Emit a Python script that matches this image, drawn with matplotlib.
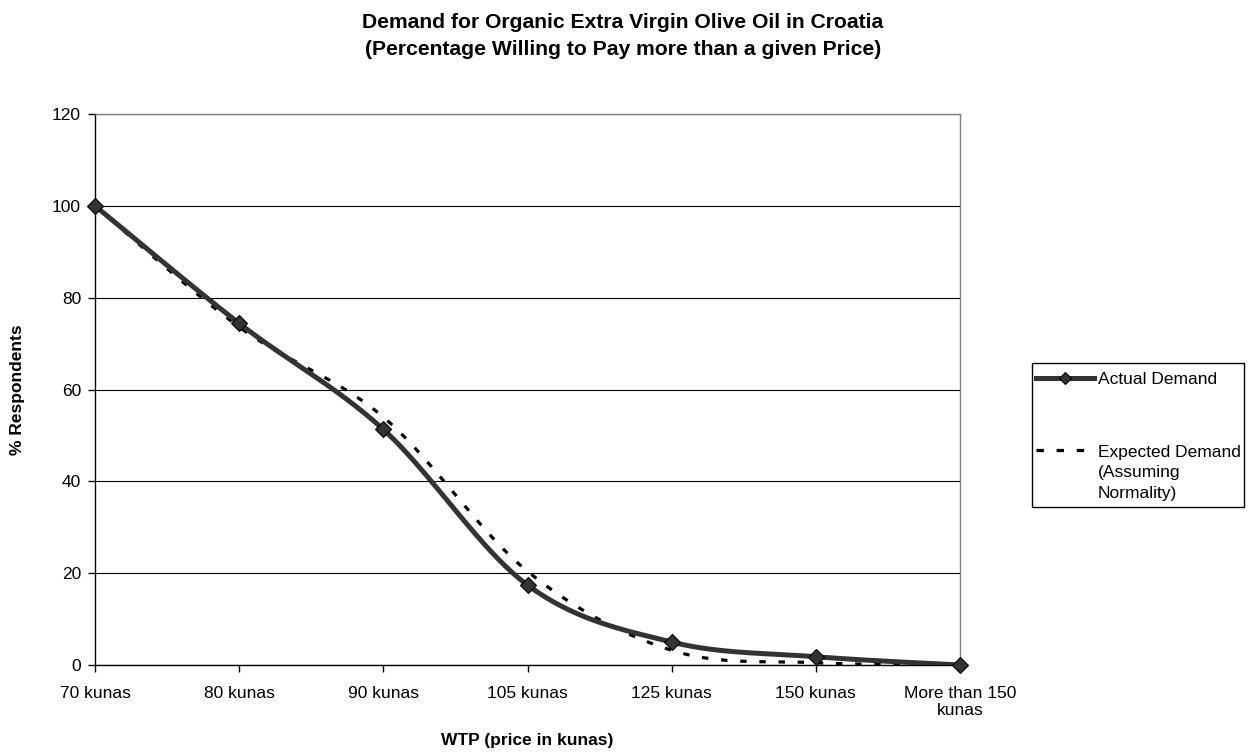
import numpy as np
import matplotlib.pyplot as plt
from matplotlib.lines import Line2D
from matplotlib.patches import Rectangle

plt.rcParams['font.family'] = ['Liberation Sans', 'DejaVu Sans']

prices = ['70 kunas', '80 kunas', '90 kunas', '105 kunas', '125 kunas',
          '150 kunas', 'More than 150\nkunas']
actual = [100, 74.4, 51.3, 17.4, 5.0, 1.8, 0]
expected = [100, 73.6, 54.0, 20.4, 3.2, 0.5, 0]

W, H = 1251, 752
DARK = '#333333'
DASH = (2.0, 4.0)
FS = 12.5


def smooth(x, y, n=40):
    # Catmull-Rom style bezier through every point (like a spreadsheet "smoothed line")
    x = np.asarray(x, float)
    y = np.asarray(y, float)
    px = np.concatenate([[x[0]], x, [x[-1]]])
    py = np.concatenate([[y[0]], y, [y[-1]]])
    xs, ys = [], []
    t = np.linspace(0, 1, n)
    for i in range(1, len(px) - 2):
        p0 = np.array([px[i], py[i]])
        p3 = np.array([px[i + 1], py[i + 1]])
        p1 = p0 + (np.array([px[i + 1], py[i + 1]]) - np.array([px[i - 1], py[i - 1]])) / 6
        p2 = p3 - (np.array([px[i + 2], py[i + 2]]) - np.array([px[i], py[i]])) / 6
        b = ((1 - t) ** 3)[:, None] * p0 + (3 * (1 - t) ** 2 * t)[:, None] * p1 \
            + (3 * (1 - t) * t ** 2)[:, None] * p2 + (t ** 3)[:, None] * p3
        xs.extend(b[:, 0])
        ys.extend(b[:, 1])
    return np.array(xs), np.array(ys)


def fx(px):
    return px / W


def fy(py):
    return 1 - py / H


fig = plt.figure(figsize=(W / 100, H / 100), dpi=100)
ax = fig.add_axes([fx(95), fy(665), 865 / W, 551 / H])

xi = np.arange(len(prices))
sx, sy = smooth(xi, expected)
ax.plot(sx, sy, color='black', lw=2.3, dashes=DASH, zorder=3)
sx, sy = smooth(xi, actual)
ax.plot(sx, sy, color=DARK, lw=3.6, zorder=4, solid_capstyle='butt')
ax.plot(xi, actual, ls='none', marker='D', ms=8.5, mfc=DARK,
        mec='black', mew=0.8, zorder=5, clip_on=False)

ax.set_xlim(0, len(prices) - 1)
ax.set_ylim(0, 120)
ax.set_yticks(np.arange(0, 121, 20))
ax.set_xticks(xi)
ax.set_xticklabels(prices, fontsize=FS, linespacing=1.15)
ax.tick_params(axis='y', labelsize=FS, direction='out', length=5, width=1, pad=5)
ax.tick_params(axis='x', direction='out', length=5, width=1, pad=10)
ax.grid(axis='y', color='black', lw=0.8)
ax.set_axisbelow(True)
for s in ['top', 'right']:
    ax.spines[s].set_color('#808080')
    ax.spines[s].set_linewidth(1)
for s in ['left', 'bottom']:
    ax.spines[s].set_linewidth(1)

ax.set_ylabel('% Respondents', fontsize=FS, fontweight='bold')
ax.yaxis.set_label_coords((18 - 95) / 865, 0.5)
ax.set_xlabel('WTP (price in kunas)', fontsize=FS, fontweight='bold')
ax.xaxis.set_label_coords(0.5, (665 - 741) / 551)
ax.xaxis.label.set_va('center')
ax.yaxis.label.set_va('center')

fig.text(fx(623), fy(36), 'Demand for Organic Extra Virgin Olive Oil in Croatia\n'
         '(Percentage Willing to Pay more than a given Price)',
         ha='center', va='center', fontsize=15.2, fontweight='bold', linespacing=1.5)

# legend box on the right, drawn by hand so the dashed key sits on the first text line
fig.add_artist(Rectangle((fx(1032), fy(507)), (1244 - 1032) / W, (507 - 363) / H,
                         transform=fig.transFigure, fill=False, ec='black', lw=1))
fig.add_artist(Line2D([fx(1036), fx(1094)], [fy(378), fy(378)], color=DARK, lw=3.6,
                      transform=fig.transFigure))
fig.add_artist(Line2D([fx(1065)], [fy(378)], ls='none', marker='D', ms=6.5, mfc=DARK,
                      mec='black', mew=0.8, transform=fig.transFigure))
fig.add_artist(Line2D([fx(1036), fx(1094)], [fy(450), fy(450)], color='black', lw=2.3,
                      dashes=(2.3, 4.0), transform=fig.transFigure))
fig.text(fx(1098), fy(379), 'Actual Demand', ha='left', va='center', fontsize=FS)
fig.text(fx(1098), fy(445), 'Expected Demand\n(Assuming\nNormality)', ha='left', va='top',
         fontsize=FS, linespacing=1.45)

fig.savefig('out.png', dpi=100, facecolor='white')
